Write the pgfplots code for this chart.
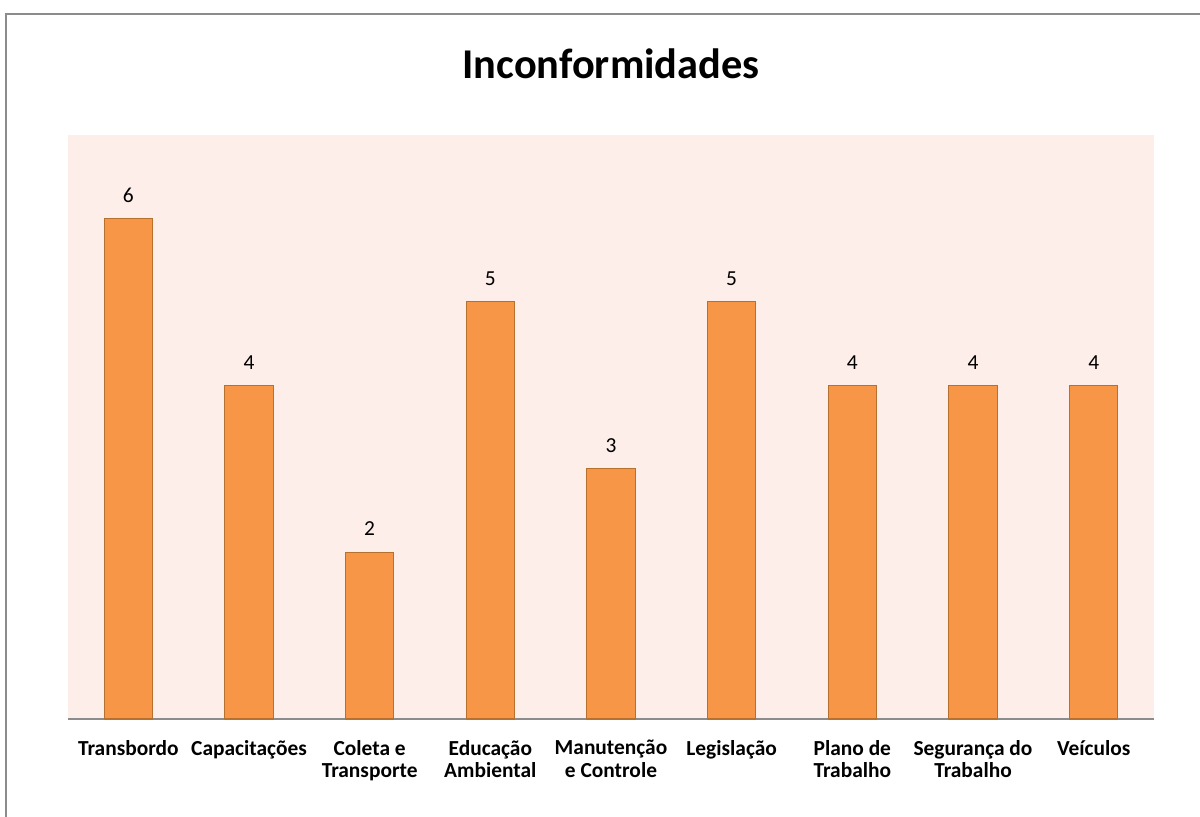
\documentclass[border=0pt]{standalone}
\usepackage{pgfplots}
\pgfplotsset{compat=1.18}
\usetikzlibrary{calc}
\usepackage{fontspec}
\setmainfont{Carlito}
\definecolor{barfill}{HTML}{F79646}
\definecolor{baredge}{HTML}{B8702F}
\definecolor{plotbg}{HTML}{FDEEE9}
\definecolor{frame}{HTML}{8C8C8C}
\definecolor{axgray}{HTML}{8C8C8C}
\begin{document}
\begin{tikzpicture}[x=1pt,y=1pt]
\begin{axis}[
  width=543pt, height=292pt, scale only axis,
  xmin=-0.5, xmax=8.5, ymin=0, ymax=7,
  axis y line=none,
  axis x line*=bottom,
  x axis line style={-, draw=axgray, line width=0.9pt},
  axis background/.style={fill=plotbg},
  xtick=data,
  xtick style={draw=none},
  xticklabels={Transbordo, Capacitações, {Coleta e\\Transporte}, {Educação\\Ambiental}, {Manutenção\\e Controle}, Legislação, {Plano de\\Trabalho}, {Segurança do\\Trabalho}, Veículos},
  xticklabel style={align=center, font=\fontsize{10.7}{11.2}\selectfont\bfseries, yshift=-7pt},
  ytick=\empty,
  /pgf/number format/assume math mode=true,
  nodes near coords,
  nodes near coords style={font=\fontsize{10.7}{12}\selectfont, anchor=south, yshift=4.5pt, text=black},
  clip=false,
]
\addplot[ybar, bar width=0.4, fill=barfill, draw=baredge, line width=0.6pt] coordinates {
(0,6) (1,4) (2,2) (3,5) (4,3) (5,5) (6,4) (7,4) (8,4)
};
\coordinate (A) at (rel axis cs:0,0);
\end{axis}
\begin{scope}[shift={($(A)+(-34,-49)$)}]
\draw[line width=1pt, color=frame] (3,-5) -- (3,401.5) -- (605,401.5);
\node[font=\fontsize{21.2}{25}\selectfont\bfseries] at (305.5,376.5) {Inconformidades};
\pgfresetboundingbox
\path[use as bounding box] (0,0) rectangle (600,408.5);
\end{scope}
\end{tikzpicture}
\end{document}
